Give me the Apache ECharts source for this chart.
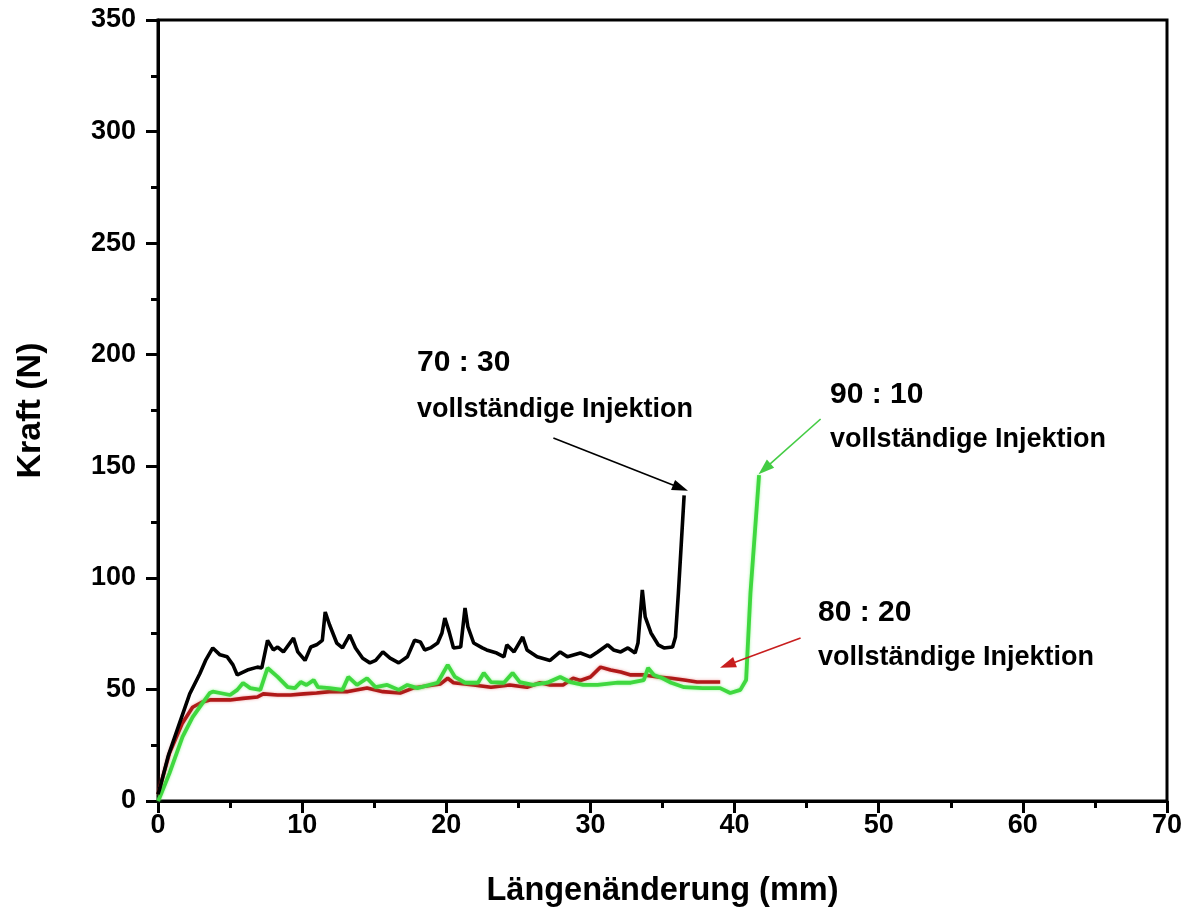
<!DOCTYPE html>
<html>
<head>
<meta charset="utf-8">
<script src="https://cdn.jsdelivr.net/npm/echarts@6/dist/echarts.min.js"></script>
<style>
html,body{margin:0;padding:0;background:#fff;}
#chart{width:1188px;height:921px;}
</style>
</head>
<body>
<div id="chart"></div>
<script>
// ---- Data ----
const xTicks = [0, 10, 20, 30, 40, 50, 60, 70];
const yTicks = [0, 50, 100, 150, 200, 250, 300, 350];

// 70 : 30 (black)
const blackX = [0, 0.14, 0.7, 1.5, 2.2, 2.9, 3.3, 3.8, 4.3, 4.8, 5.2, 5.5, 6.2, 6.9, 7.2, 7.6, 8.0, 8.3, 8.7, 9.4, 9.7, 10.2, 10.6, 11.0, 11.4, 11.6, 11.9, 12.4, 12.8, 13.3, 13.7, 14.2, 14.7, 15.1, 15.6, 16.1, 16.7, 17.3, 17.8, 18.2, 18.5, 18.9, 19.4, 19.7, 19.9, 20.2, 20.5, 21.0, 21.3, 21.5, 21.9, 22.5, 22.8, 23.5, 24.0, 24.2, 24.7, 25.3, 25.6, 26.3, 27.2, 27.9, 28.4, 29.3, 30.0, 30.5, 31.2, 31.6, 32.1, 32.6, 33.1, 33.3, 33.6, 33.8, 34.2, 34.7, 35.1, 35.7, 35.9, 36.1, 36.3, 36.5];
const blackY = [3, 6, 20, 35, 48, 57, 63, 68.6, 65.5, 64.6, 61, 56.5, 58.7, 60, 59.6, 72, 67.7, 69, 66.8, 73, 66.8, 63, 69, 70, 72, 84.7, 79, 70.8, 68.6, 74.4, 68.6, 64, 61.9, 63, 66.8, 64, 61.9, 64.6, 72, 71.3, 67.7, 68.6, 70.8, 75.3, 82, 75.8, 68.6, 69, 86.5, 78, 70.8, 68.6, 67.7, 66.3, 64.6, 70, 66.8, 73.5, 67.7, 64.6, 63, 66.8, 64.6, 66.3, 64.6, 66.8, 70, 67.7, 66.8, 68.6, 66.3, 70.8, 94.6, 82.5, 75.3, 70, 68.6, 69, 73.5, 93, 115, 137];

// 80 : 20 (red)
const redX = [0, 0.8, 1.7, 2.4, 3.1, 3.6, 4.1, 5.0, 5.9, 6.9, 7.3, 8.3, 9.2, 10.1, 11.0, 11.9, 13.1, 14.5, 15.6, 16.8, 17.7, 19.1, 19.6, 20.1, 20.5, 21.9, 23.1, 24.4, 25.6, 26.5, 27.2, 28.1, 28.8, 29.3, 30.0, 30.7, 31.4, 32.1, 32.8, 33.7, 34.7, 35.6, 36.5, 37.4, 38.3, 39.0];
const redY = [3, 21.5, 35, 42, 44.4, 45.3, 45.3, 45.3, 46, 46.6, 48, 47.5, 47.5, 48, 48.4, 49, 49, 50.6, 49, 48.4, 50.6, 52, 52.5, 55, 53, 52, 51, 52, 51, 53, 52, 52, 55, 54, 55.6, 60, 58.7, 57.8, 56.5, 56.5, 55.6, 55, 54.2, 53.3, 53.3, 53.3];

// 90 : 10 (green)
const greenX = [0, 0.1, 0.8, 1.7, 2.4, 3.1, 3.6, 3.8, 4.3, 5.0, 5.5, 5.9, 6.4, 7.1, 7.6, 8.3, 9.0, 9.5, 9.9, 10.3, 10.8, 11.1, 11.9, 12.8, 13.2, 13.8, 14.5, 15.1, 15.9, 16.7, 17.3, 18.0, 19.4, 20.1, 20.6, 21.3, 22.2, 22.6, 23.1, 24.0, 24.6, 25.1, 26.0, 27.0, 27.9, 28.6, 29.5, 30.5, 31.9, 32.8, 33.7, 34.0, 34.4, 35.0, 35.6, 36.5, 37.8, 39.0, 39.7, 40.4, 40.8, 41.1, 41.7];
const greenY = [0, 1.3, 12.5, 28.7, 37.6, 44, 48.4, 49, 48.4, 47.5, 49.8, 52.9, 50.6, 49.8, 59.6, 55.6, 51, 50.6, 53.3, 52, 54.2, 51, 50.6, 49.8, 55.6, 52, 55, 51, 52, 49.8, 52, 50.6, 53, 61, 55.6, 53, 53, 57.4, 53.3, 53, 57.4, 53.3, 52, 53, 55.6, 53.3, 52, 52, 53, 53, 54.2, 59.6, 56.5, 55, 53, 51, 50.6, 50.6, 48.4, 49.8, 54.2, 93, 146];

// Annotation arrows (data coordinates: [startX, startY, endX, endY])
const arrowBlack = [27.43, 162.7, 36.25, 140.3];
const arrowGreen = [45.97, 171.2, 42.08, 148.8];
const arrowRed = [44.58, 73.1, 39.51, 61.0];

const labelTitles = ['70 : 30', '90 : 10', '80 : 20'];
const labelSub = 'vollständige Injektion';

// ---- Build ----
function pairs(xs, ys) { return xs.map((x, i) => [x, ys[i]]); }
function arrowLine(a, color) {
  return {
    silent: true,
    symbol: ['none', 'triangle'],
    symbolSize: [11, 16],
    label: { show: false },
    lineStyle: { type: 'solid', width: 1.6, color: color },
    data: [[{ coord: [a[0], a[1]] }, { coord: [a[2], a[3]] }]]
  };
}

const FONT = '"Liberation Sans", Arial, sans-serif';
const chart = echarts.init(document.getElementById('chart'));

function txt(x, y, text, size, color) {
  return {
    type: 'text', x: x, y: y, silent: true,
    style: { text: text, fill: color || '#000', font: 'bold ' + size + 'px ' + FONT, verticalAlign: 'middle', align: 'left' }
  };
}

const option = {
  animation: false,
  backgroundColor: '#fff',
  grid: { left: 158, right: 21, top: 20, bottom: 120, show: true, borderColor: '#000', borderWidth: 3, backgroundColor: 'transparent' },
  xAxis: {
    type: 'value', min: xTicks[0], max: xTicks[xTicks.length - 1], interval: 10,
    name: 'Längenänderung (mm)', nameLocation: 'middle', nameGap: 74,
    nameTextStyle: { fontFamily: FONT, fontWeight: 'bold', fontSize: 32.5, color: '#000' },
    axisLine: { onZero: false, lineStyle: { color: '#000', width: 3 } },
    axisTick: { show: true, inside: false, length: 12, lineStyle: { width: 3, color: '#000' } },
    minorTick: { show: true, splitNumber: 2, length: 7, lineStyle: { width: 3, color: '#000' } },
    axisLabel: { margin: 11, fontFamily: FONT, fontWeight: 'bold', fontSize: 27, color: '#000' },
    splitLine: { show: false }
  },
  yAxis: {
    type: 'value', min: yTicks[0], max: yTicks[yTicks.length - 1], interval: 50,
    name: 'Kraft (N)', nameLocation: 'middle', nameGap: 110,
    nameTextStyle: { fontFamily: FONT, fontWeight: 'bold', fontSize: 34, color: '#000' },
    axisLine: { onZero: false, lineStyle: { color: '#000', width: 3 } },
    axisTick: { show: true, inside: false, length: 12, lineStyle: { width: 3, color: '#000' } },
    minorTick: { show: true, splitNumber: 2, length: 7, lineStyle: { width: 3, color: '#000' } },
    axisLabel: { margin: 22, fontFamily: FONT, fontWeight: 'bold', fontSize: 27, color: '#000' },
    splitLine: { show: false }
  },
  series: [
    {
      name: '80 : 20', type: 'line', data: pairs(redX, redY), showSymbol: false, symbol: 'none',
      lineStyle: { color: '#b01818', width: 3.6, shadowColor: 'rgba(220,60,60,0.5)', shadowBlur: 3 },
      markLine: arrowLine(arrowRed, '#c81e1e'), z: 2
    },
    {
      name: '90 : 10', type: 'line', data: pairs(greenX, greenY), showSymbol: false, symbol: 'none',
      lineStyle: { color: '#3fd83f', width: 3.8, shadowColor: 'rgba(90,240,90,0.6)', shadowBlur: 3 },
      markLine: arrowLine(arrowGreen, '#44cc44'), z: 3
    },
    {
      name: '70 : 30', type: 'line', data: pairs(blackX, blackY), showSymbol: false, symbol: 'none',
      lineStyle: { color: '#000', width: 3.6 },
      markLine: arrowLine(arrowBlack, '#000'), z: 4
    }
  ],
  graphic: [
    txt(417, 363, labelTitles[0], 30),
    txt(417, 410, labelSub, 27),
    txt(830, 395, labelTitles[1], 30),
    txt(830, 440, labelSub, 27),
    txt(818, 613, labelTitles[2], 30),
    txt(818, 658, labelSub, 27)
  ]
};
chart.setOption(option);
</script>
</body>
</html>
